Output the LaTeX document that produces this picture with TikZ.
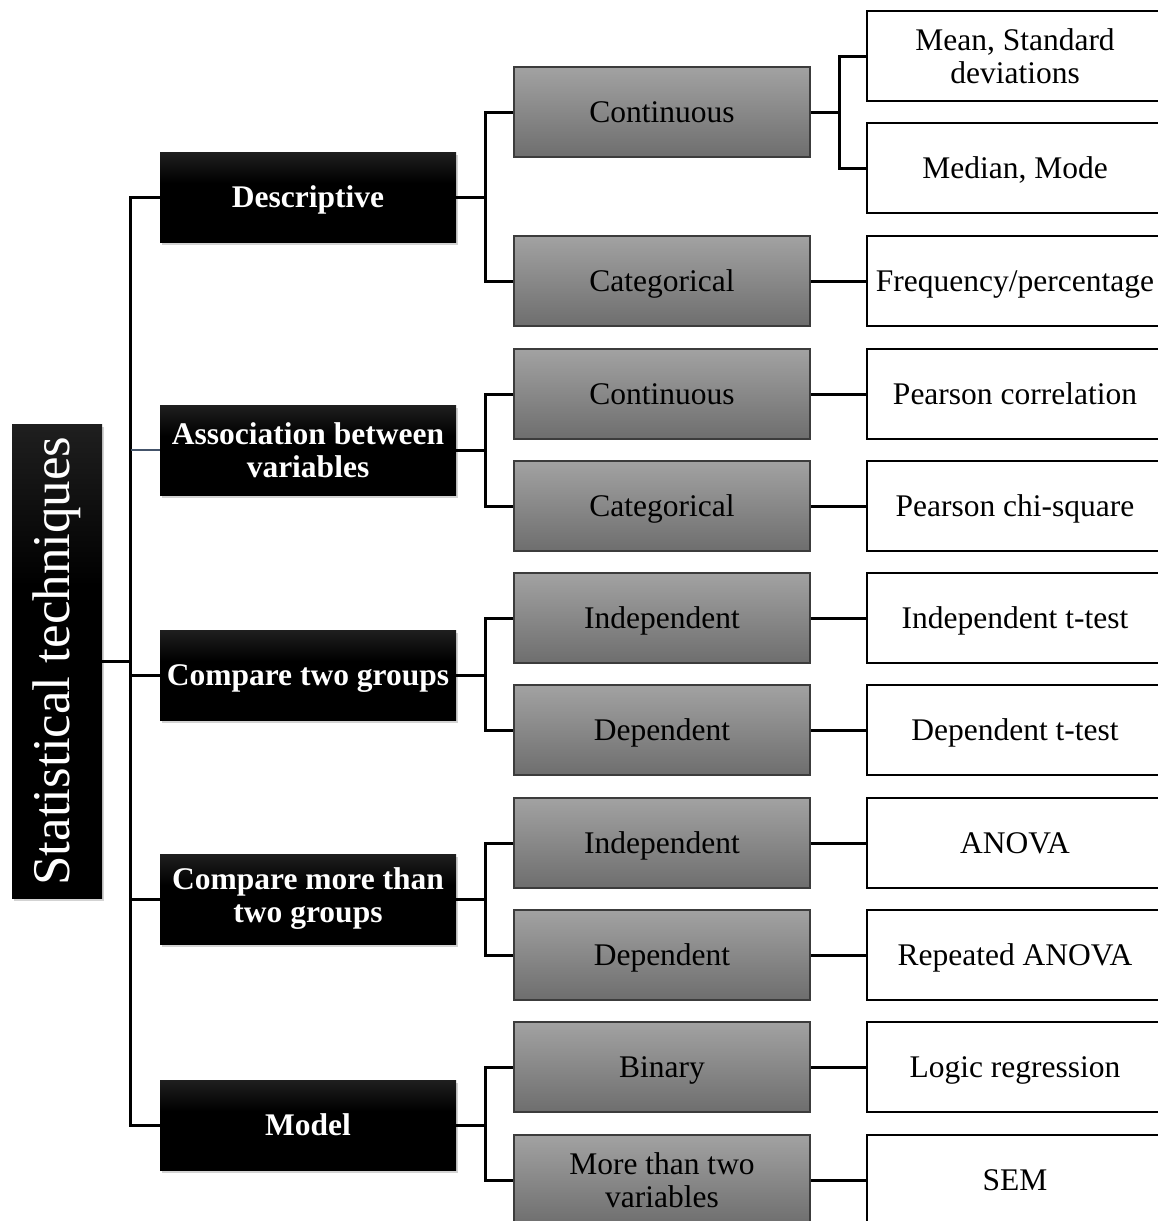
\documentclass[tikz,border=0pt]{standalone}
\usepackage{fontspec}
\setmainfont{Liberation Serif}
\usetikzlibrary{shadows}
\definecolor{grayTop}{HTML}{A2A2A2}
\definecolor{grayBot}{HTML}{6E6E6E}
\definecolor{grayEdge}{HTML}{3C3C3C}
\definecolor{thinLink}{HTML}{44546A}
\pgfdeclareverticalshading{darkfade}{100bp}{color(0bp)=(black); color(58bp)=(black); color(100bp)=(black!70)}
\begin{document}
\begin{tikzpicture}[x=1pt,y=-1pt,
  base/.style={minimum width=296pt, minimum height=90pt, inner sep=0pt, align=center,
    text depth=0pt, font=\fontsize{31.5}{33}\selectfont},
  twolines/.style={text depth={}},
  rootbox/.style={minimum width=90pt, minimum height=474pt, inner sep=0pt, shading=darkfade,
    text=white, font=\fontsize{53}{60}\selectfont,
    drop shadow={shadow xshift=2pt, shadow yshift=-3pt, opacity=0.35}},
  groupbox/.style={base, shading=darkfade, text=white, font=\fontsize{31.5}{33}\selectfont\bfseries,
    drop shadow={shadow xshift=2pt, shadow yshift=-3pt, opacity=0.35}},
  kindbox/.style={base, top color=grayTop, bottom color=grayBot, draw=grayEdge, line width=1.5pt},
  testbox/.style={base, fill=white, draw=black, line width=2.5pt},
  link/.style={line width=3pt, black},
  thinlink/.style={line width=1.3pt, thinLink}]
\clip (0,0) rectangle (1158,1221);

% root
\node[rootbox] (root) at (57,661) {\rotatebox{90}{Statistical techniques}};

% first level
\node[groupbox] (desc)  at (308,197)  {Descriptive};
\node[groupbox,twolines] (assoc) at (308,450)  {Association between\\variables};
\node[groupbox] (cmp2)  at (308,675)  {Compare two groups};
\node[groupbox,twolines] (cmpm)  at (308,899)  {Compare more than\\two groups};
\node[groupbox] (model) at (308,1125) {Model};

% second level
\node[kindbox] (dcont) at (662,112)  {Continuous};
\node[kindbox] (dcat)  at (662,281)  {Categorical};
\node[kindbox] (acont) at (662,394)  {Continuous};
\node[kindbox] (acat)  at (662,506)  {Categorical};
\node[kindbox] (tind)  at (662,618)  {Independent};
\node[kindbox] (tdep)  at (662,730)  {Dependent};
\node[kindbox] (mind)  at (662,843)  {Independent};
\node[kindbox] (mdep)  at (662,955)  {Dependent};
\node[kindbox] (bin)   at (662,1067) {Binary};
\node[kindbox,twolines] (multi) at (662,1180) {More than two\\variables};

% third level
\node[testbox,twolines] (mean)   at (1015,56)   {Mean, Standard\\deviations};
\node[testbox] (median) at (1015,168)  {Median, Mode};
\node[testbox] (freq)   at (1015,281)  {Frequency/percentage};
\node[testbox] (pcor)   at (1015,394)  {Pearson correlation};
\node[testbox] (pchi)   at (1015,506)  {Pearson chi-square};
\node[testbox] (itt)    at (1015,618)  {Independent t-test};
\node[testbox] (dtt)    at (1015,730)  {Dependent t-test};
\node[testbox] (anova)  at (1015,843)  {ANOVA};
\node[testbox] (ranova) at (1015,955)  {Repeated ANOVA};
\node[testbox] (logit)  at (1015,1067) {Logic regression};
\node[testbox] (sem)    at (1015,1180) {SEM};

% trunk from the root
\draw[link] (root.east) -- ++(29,0);
\draw[link] (desc.west) -- ++(-29,0) |- (model.west);
\draw[thinlink] (assoc.west) -- ++(-29,0);
\draw[link] (cmp2.west) -- ++(-29,0);
\draw[link] (cmpm.west) -- ++(-29,0);

% forks to the second level
\draw[link] (desc.east)  -- ++(29,0) coordinate (jd);
\draw[link] (dcont.west) -| (jd) |- (dcat.west);
\draw[link] (assoc.east) -- ++(29,0) coordinate (ja);
\draw[link] (acont.west) -| (ja) |- (acat.west);
\draw[link] (cmp2.east)  -- ++(29,0) coordinate (jt);
\draw[link] (tind.west)  -| (jt) |- (tdep.west);
\draw[link] (cmpm.east)  -- ++(29,0) coordinate (jm);
\draw[link] (mind.west)  -| (jm) |- (mdep.west);
\draw[link] (model.east) -- ++(29,0) coordinate (jo);
\draw[link] (bin.west)   -| (jo) |- (multi.west);

% links to the third level
\draw[link] (dcont.east) -- ++(29,0) coordinate (jc);
\draw[link] (mean.west)  -| (jc) |- (median.west);
\draw[link] (dcat.east)  -- (freq.west);
\draw[link] (acont.east) -- (pcor.west);
\draw[link] (acat.east)  -- (pchi.west);
\draw[link] (tind.east)  -- (itt.west);
\draw[link] (tdep.east)  -- (dtt.west);
\draw[link] (mind.east)  -- (anova.west);
\draw[link] (mdep.east)  -- (ranova.west);
\draw[link] (bin.east)   -- (logit.west);
\draw[link] (multi.east) -- (sem.west);
\end{tikzpicture}
\end{document}
